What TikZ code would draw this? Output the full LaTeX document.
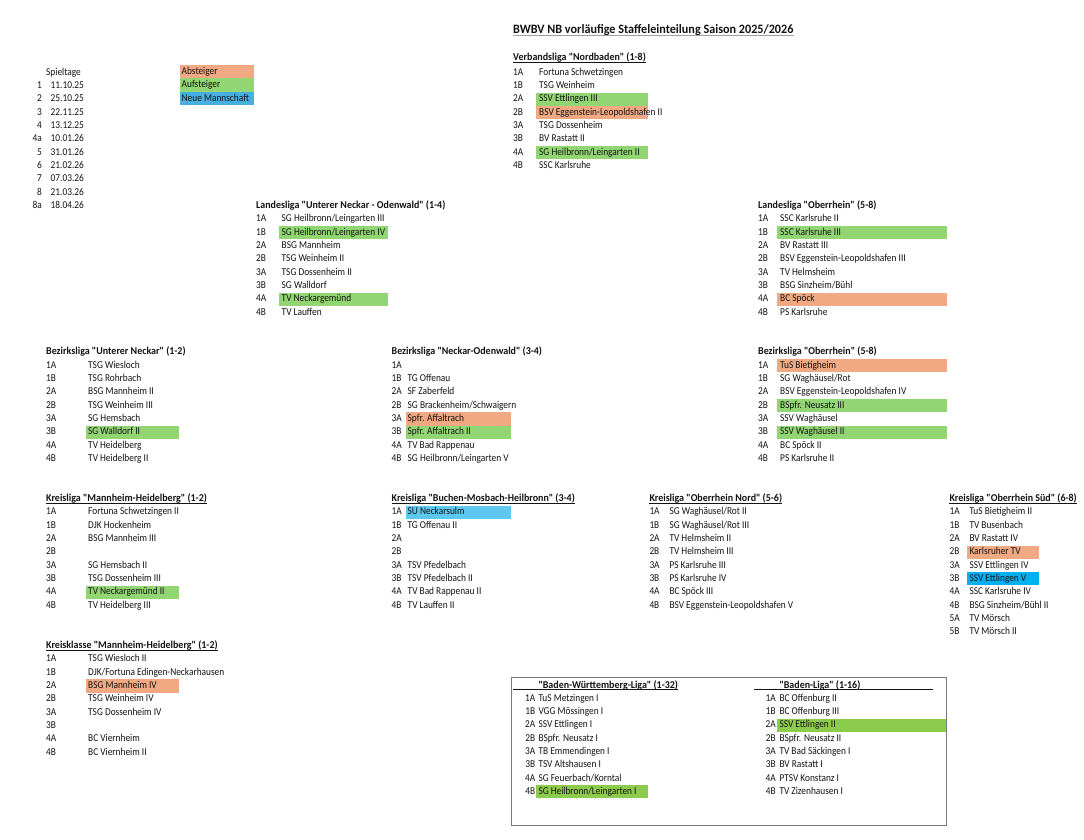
\documentclass[tikz,border=0pt]{standalone}
\usepackage{fontspec}
\setmainfont{Carlito}[Ligatures=TeXOff, FakeStretch=0.89, BoldFeatures={FakeStretch=0.95}]
\definecolor{abst}{RGB}{241,169,131}
\definecolor{aufst}{RGB}{146,214,115}
\definecolor{aufstb}{RGB}{141,203,76}
\definecolor{neu}{RGB}{69,176,225}
\definecolor{neub}{RGB}{94,200,240}
\definecolor{neuc}{RGB}{0,176,240}
\definecolor{ink}{RGB}{20,20,20}
\definecolor{framec}{RGB}{120,120,120}
\definecolor{titlel}{RGB}{160,160,160}
\def\nofill{-}
\tikzset{
  cell/.style={anchor=west, inner sep=0pt, font=\fontsize{10.5}{12}\selectfont, text=ink, text height=7.3pt, text depth=2pt},
  rcell/.style={cell, anchor=east},
  head/.style={cell, font=\bfseries\fontsize{10.5}{12}\selectfont},
  titlehead/.style={cell, font=\bfseries\fontsize{12.8}{14}\selectfont, text height=9pt, text depth=2.5pt},
  uline/.style={line width=0.8pt, draw=ink},
  tline/.style={line width=1.3pt, draw=titlel},
  boxframe/.style={line width=0.9pt, draw=framec},
}
% [#1 code style] #2 prefix, #3 code x, #4 team x, #5 first row y, #6 box left, #7 box right, #8 list
\newcommand\ligarows[8][cell]{%
  \foreach \c/\f/\t [count=\i] in {#8} {
    \pgfmathsetmacro\yy{#5+(\i-1)*13.3}
    \edef\ffill{\f}
    \ifx\ffill\nofill\else \fill[\f] (#6,\yy-6.6) rectangle (#7,\yy+6.6);\fi
    \node[#1] (#2c\i) at (#3,\yy) {\c};
    \edef\tmpT{\t}
    \ifx\tmpT\empty\else \node[cell] (#2t\i) at (#4,\yy) {\t};\fi
  }}
\begin{document}
\begin{tikzpicture}[x=1pt,y=-1pt]
\useasboundingbox (0,0) rectangle (1084,839);
\fill[white] (0,0) rectangle (1084,839);

% title
\node[titlehead] (title) at (513,30.5) {BWBV NB vorläufige Staffeleinteilung Saison 2025/2026};
\draw[tline] ([yshift=-2pt]title.base west) -- ([yshift=-2pt]title.base east);

% Spieltage
\node[cell] (sph) at (46,72.7) {Spieltage};
\foreach \n/\d [count=\i] in {1/11.10.25,2/25.10.25,3/22.11.25,4/13.12.25,4a/10.01.26,5/31.01.26,6/21.02.26,7/07.03.26,8/21.03.26,8a/18.04.26} {
  \pgfmathsetmacro\yy{86+(\i-1)*13.3}
  \node[rcell] (spn\i) at (42,\yy) {\n};
  \node[cell] (spd\i) at (50.5,\yy) {\d};
}

% legend
\fill[abst] (180,65) rectangle (254,78.3);
\fill[aufst] (180,78.3) rectangle (254,91.7);
\fill[neu] (180,91.7) rectangle (254,105);
\node[cell] (lg1) at (181.5,71.8) {Absteiger};
\node[cell] (lg2) at (181.5,85.1) {Aufsteiger};
\node[cell] (lg3) at (181.5,98.4) {Neue Mannschaft};

% Verbandsliga
\node[head] (vlh) at (513,58.3) {Verbandsliga "Nordbaden" (1-8)};
\draw[uline] ([yshift=-1.5pt]vlh.base west) -- ([yshift=-1.5pt]vlh.base east);
\ligarows{vl}{513}{539}{72.7}{536}{647.7}{1A/-/Fortuna Schwetzingen, 1B/-/TSG Weinheim, 2A/aufst/SSV Ettlingen III, 2B/abst/BSV Eggenstein-Leopoldshafen II, 3A/-/TSG Dossenheim, 3B/-/BV Rastatt II, 4A/aufst/{SG Heilbronn/Leingarten II}, 4B/-/SSC Karlsruhe}

% Landesliga UNO
\node[head] (luh) at (256,206) {Landesliga "Unterer Neckar - Odenwald" (1-4)};
\ligarows{lu}{256}{281.5}{219.3}{279.3}{388.3}{1A/-/{SG Heilbronn/Leingarten III}, 1B/aufst/{SG Heilbronn/Leingarten IV}, 2A/-/BSG Mannheim, 2B/-/TSG Weinheim II, 3A/-/TSG Dossenheim II, 3B/-/SG Walldorf, 4A/aufst/TV Neckargemünd, 4B/-/TV Lauffen}

% Landesliga Oberrhein
\node[head] (loh) at (758,206) {Landesliga "Oberrhein" (5-8)};
\ligarows{lo}{758}{780}{219.3}{777}{946.7}{1A/-/SSC Karlsruhe II, 1B/aufst/SSC Karlsruhe III, 2A/-/BV Rastatt III, 2B/-/BSV Eggenstein-Leopoldshafen III, 3A/-/TV Helmsheim, 3B/-/{BSG Sinzheim/Bühl}, 4A/abst/BC Spöck, 4B/-/PS Karlsruhe}

% Bezirksliga UN
\node[head] (buh) at (46,352.3) {Bezirksliga "Unterer Neckar" (1-2)};
\ligarows{bu}{46}{88}{365.7}{86}{179.3}{1A/-/TSG Wiesloch, 1B/-/TSG Rohrbach, 2A/-/BSG Mannheim II, 2B/-/TSG Weinheim III, 3A/-/SG Hemsbach, 3B/aufst/SG Walldorf II, 4A/-/TV Heidelberg, 4B/-/TV Heidelberg II}

% Bezirksliga NO
\node[head] (bnh) at (391.5,352.3) {Bezirksliga "Neckar-Odenwald" (3-4)};
\ligarows{bn}{391.5}{407.5}{365.7}{405.5}{511}{1A/-/{}, 1B/-/TG Offenau, 2A/-/SF Zaberfeld, 2B/-/{SG Brackenheim/Schwaigern}, 3A/abst/Spfr. Affaltrach, 3B/aufst/Spfr. Affaltrach II, 4A/-/TV Bad Rappenau, 4B/-/{SG Heilbronn/Leingarten V}}

% Bezirksliga Oberrhein
\node[head] (boh) at (758,352.3) {Bezirksliga "Oberrhein" (5-8)};
\ligarows{bo}{758}{780}{365.7}{777}{946.7}{1A/abst/TuS Bietigheim, 1B/-/{SG Waghäusel/Rot}, 2A/-/BSV Eggenstein-Leopoldshafen IV, 2B/aufst/BSpfr. Neusatz III, 3A/-/SSV Waghäusel, 3B/aufst/SSV Waghäusel II, 4A/-/BC Spöck II, 4B/-/PS Karlsruhe II}

% Kreisliga MH
\node[head] (kmh) at (46,499) {Kreisliga "Mannheim-Heidelberg" (1-2)};
\draw[uline] ([yshift=-1.5pt]kmh.base west) -- ([yshift=-1.5pt]kmh.base east);
\ligarows{km}{46}{88}{512.3}{86}{179.3}{1A/-/Fortuna Schwetzingen II, 1B/-/DJK Hockenheim, 2A/-/BSG Mannheim III, 2B/-/{}, 3A/-/SG Hemsbach II, 3B/-/TSG Dossenheim III, 4A/aufst/TV Neckargemünd II, 4B/-/TV Heidelberg III}

% Kreisliga BMH
\node[head] (kbh) at (391.5,499) {Kreisliga "Buchen-Mosbach-Heilbronn" (3-4)};
\draw[uline] ([yshift=-1.5pt]kbh.base west) -- ([yshift=-1.5pt]kbh.base east);
\ligarows{kb}{391.5}{407.5}{512.3}{405.5}{511}{1A/neub/SU Neckarsulm, 1B/-/TG Offenau II, 2A/-/{}, 2B/-/{}, 3A/-/TSV Pfedelbach, 3B/-/TSV Pfedelbach II, 4A/-/TV Bad Rappenau II, 4B/-/TV Lauffen II}

% Kreisliga ON
\node[head] (knh) at (649.3,499) {Kreisliga "Oberrhein Nord" (5-6)};
\draw[uline] ([yshift=-1.5pt]knh.base west) -- ([yshift=-1.5pt]knh.base east);
\ligarows{kn}{649.3}{669.3}{512.3}{667}{760}{1A/-/{SG Waghäusel/Rot II}, 1B/-/{SG Waghäusel/Rot III}, 2A/-/TV Helmsheim II, 2B/-/TV Helmsheim III, 3A/-/PS Karlsruhe III, 3B/-/PS Karlsruhe IV, 4A/-/BC Spöck III, 4B/-/BSV Eggenstein-Leopoldshafen V}

% Kreisliga OS
\node[head] (ksh) at (949.3,499) {Kreisliga "Oberrhein Süd" (6-8)};
\draw[uline] ([yshift=-1.5pt]ksh.base west) -- ([yshift=-1.5pt]ksh.base east);
\ligarows{ks}{949.3}{969.3}{512.3}{967.2}{1039}{1A/-/TuS Bietigheim II, 1B/-/TV Busenbach, 2A/-/BV Rastatt IV, 2B/abst/Karlsruher TV, 3A/-/SSV Ettlingen IV, 3B/neuc/SSV Ettlingen V, 4A/-/SSC Karlsruhe IV, 4B/-/{BSG Sinzheim/Bühl II}, 5A/-/TV Mörsch, 5B/-/TV Mörsch II}

% Kreisklasse MH
\node[head] (kkh) at (46,646) {Kreisklasse "Mannheim-Heidelberg" (1-2)};
\draw[uline] ([yshift=-1.5pt]kkh.base west) -- ([yshift=-1.5pt]kkh.base east);
\ligarows{kk}{46}{88}{659.3}{86}{179.3}{1A/-/TSG Wiesloch II, 1B/-/{DJK/Fortuna Edingen-Neckarhausen}, 2A/abst/BSG Mannheim IV, 2B/-/TSG Weinheim IV, 3A/-/TSG Dossenheim IV, 3B/-/{}, 4A/-/BC Viernheim, 4B/-/BC Viernheim II}

% bottom box
\draw[boxframe] (511.5,677.5) rectangle (946.5,825);
\node[head] (bwh) at (538.3,685.7) {"Baden-Württemberg-Liga" (1-32)};
\coordinate (bwl) at (513,0);
\draw[uline] ([yshift=-1.5pt]bwh.base east) -- ([yshift=-1.5pt]bwh.base east -| bwl);
\ligarows[rcell]{bw}{535.5}{538.3}{698.7}{536}{647.7}{1A/-/TuS Metzingen I, 1B/-/VGG Mössingen I, 2A/-/SSV Ettlingen I, 2B/-/BSpfr. Neusatz I, 3A/-/TB Emmendingen I, 3B/-/TSV Altshausen I, 4A/-/{SG Feuerbach/Korntal}, 4B/aufstb/{SG Heilbronn/Leingarten I}}

\node[head] (blh) at (779.3,685.7) {"Baden-Liga" (1-16)};
\coordinate (bll) at (754,0);
\coordinate (blr) at (932.7,0);
\draw[uline] ([yshift=-1.5pt]blh.base east -| blr) -- ([yshift=-1.5pt]blh.base east -| bll);
\ligarows[rcell]{bl}{776}{779.3}{698.7}{777.3}{946}{1A/-/BC Offenburg II, 1B/-/BC Offenburg III, 2A/aufstb/SSV Ettlingen II, 2B/-/BSpfr. Neusatz II, 3A/-/TV Bad Säckingen I, 3B/-/BV Rastatt I, 4A/-/PTSV Konstanz I, 4B/-/TV Zizenhausen I}
\end{tikzpicture}
\end{document}
